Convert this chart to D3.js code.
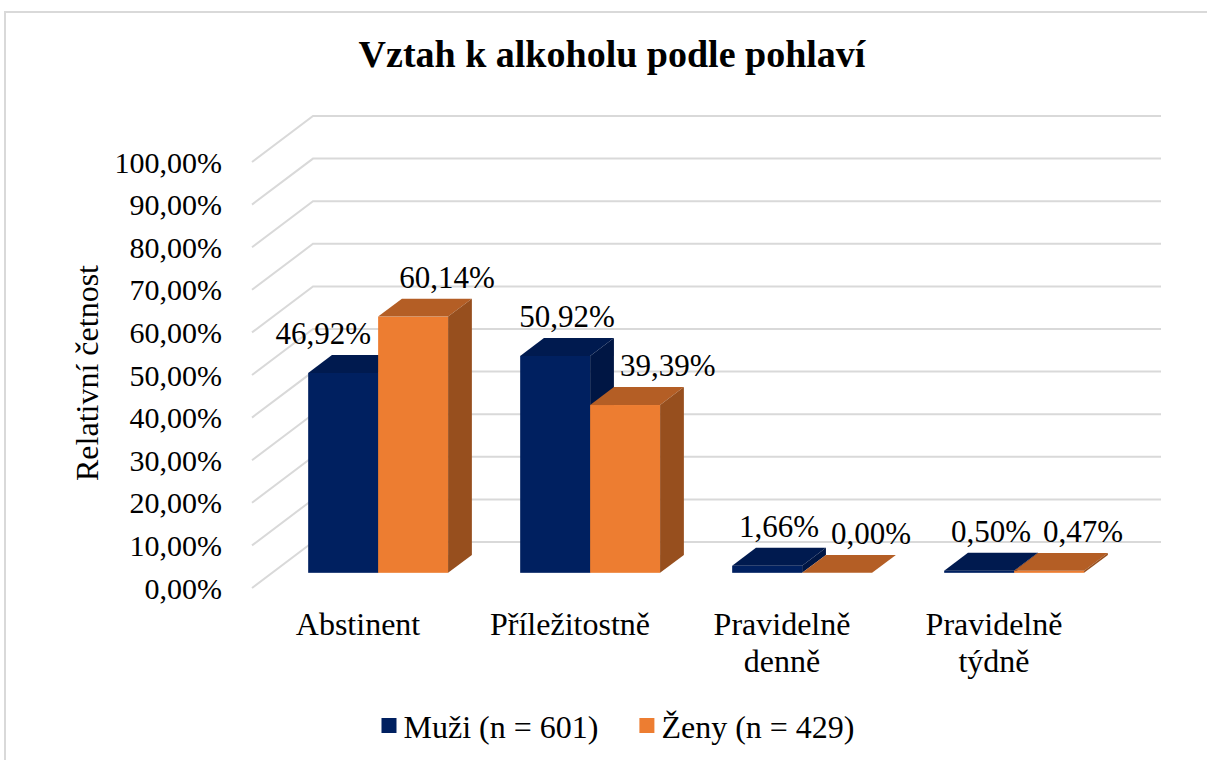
<!DOCTYPE html>
<html>
<head>
<meta charset="utf-8">
<script src="https://cdn.jsdelivr.net/npm/d3@7"></script>
<style>
  body { margin: 0; background: #fff; }
  svg text { font-family: "Times New Roman", "Liberation Serif", serif; fill: #000; }
</style>
</head>
<body>
<div id="chart"></div>
<script>
// data
const categories = ["Abstinent", "Příležitostně", "Pravidelně denně", "Pravidelně týdně"];
const seriesNames = ["Muži (n = 601)", "Ženy (n = 429)"];
const muzi = [46.92, 50.92, 1.66, 0.50];
const zeny = [60.14, 39.39, 0.00, 0.47];
const yTicks = [0, 10, 20, 30, 40, 50, 60, 70, 80, 90, 100];

const title = "Vztah k alkoholu podle pohlaví";
const yTitle = "Relativní četnost";

// colours: front, top, side
const palette = [
    {front: "#002060", top: "#001a4f", side: "#001644"},
    {front: "#ed7d31", top: "#b45e25", side: "#974f1e"}
];

const W = 1207, H = 760;
const fmt = v => v.toFixed(2).replace(".", ",") + "%";

// 3d geometry (oblique projection)
const depthX = 61, depthY = 46;      // full depth of the floor
const f1 = 0.33, f2 = 0.72;          // bar depth range

const x = d3.scaleBand()
    .domain(categories)
    .range([252, 1100]);

const y = d3.scaleLinear()
    .domain([0, 100])
    .range([588, 162]);

const svg = d3.select("#chart").append("svg")
    .attr("width", W)
    .attr("height", H);

// chart border
svg.append("rect")
    .attr("x", 5).attr("y", 12)
    .attr("width", W + 20).attr("height", H + 20)
    .attr("fill", "#fff")
    .attr("stroke", "#d9d9d9")
    .attr("stroke-width", 2);

// title
svg.append("text")
    .attr("x", 612).attr("y", 67)
    .attr("text-anchor", "middle")
    .style("font-size", "38px")
    .style("font-weight", "bold")
    .text(title);

// gridlines: side wall diagonal + back wall
const grid = svg.append("g")
    .attr("stroke", "#d9d9d9")
    .attr("stroke-width", 2)
    .attr("fill", "none");

yTicks.forEach(t => {
    const yf = y(t), yb = y(t) - depthY;
    grid.append("polyline")
        .attr("points", [[x.range()[0], yf], [x.range()[0] + depthX, yb], [x.range()[1] + depthX, yb]].join(" "));
});

// y tick labels
svg.append("g").selectAll("text")
    .data(yTicks)
    .join("text")
    .attr("x", 222)
    .attr("y", d => y(d))
    .attr("dy", "0.35em")
    .attr("text-anchor", "end")
    .style("font-size", "30px")
    .text(d => fmt(d));

// y axis title
svg.append("text")
    .attr("transform", "translate(87,373) rotate(-90)")
    .attr("text-anchor", "middle")
    .attr("dy", "0.35em")
    .style("font-size", "32px")
    .text(yTitle);

// bars
const barW = x.bandwidth() * 0.33;
const groupOff = (x.bandwidth() - 2 * barW) / 2;
const ddx = depthX * (f2 - f1), ddy = depthY * (f2 - f1);

const bars = [];
categories.forEach((c, i) => {
    [muzi[i], zeny[i]].forEach((v, s) => {
        const L = x(c) + groupOff + s * barW + depthX * f1;
        const B = y(0) - depthY * f1;
        const T = y(v) - depthY * f1;
        bars.push({cat: i, s, v, L, B, T});
    });
});

const gBars = svg.append("g");
bars.forEach(b => {
    const col = palette[b.s];
    const g = gBars.append("g");
    g.append("rect")
        .attr("x", b.L).attr("y", b.T)
        .attr("width", barW).attr("height", b.B - b.T)
        .attr("fill", col.front);
    g.append("polygon")
        .attr("points", [[b.L, b.T], [b.L + barW, b.T], [b.L + barW + ddx, b.T - ddy], [b.L + ddx, b.T - ddy]].join(" "))
        .attr("fill", col.top);
    g.append("polygon")
        .attr("points", [[b.L + barW, b.T], [b.L + barW + ddx, b.T - ddy], [b.L + barW + ddx, b.B - ddy], [b.L + barW, b.B]].join(" "))
        .attr("fill", col.side);
});

// data labels
const gLab = svg.append("g");
bars.forEach(b => {
    const cx = b.L + barW / 2 + (b.s === 0 ? 12 : 34);
    const base = b.T - ddy - 11;
    const t = gLab.append("text")
        .attr("x", cx).attr("y", base)
        .attr("text-anchor", "middle")
        .style("font-size", "31px")
        .text(fmt(b.v));
    const w = t.node().getComputedTextLength();
    // keep labels clear of a taller neighbour bar
    if (b.s === 0) {
        const nb = bars.find(o => o.cat === b.cat && o.s === 1);
        if (nb.T - ddy < base && cx + w / 2 > nb.L - 6) {
            t.attr("x", nb.L - 7 - w / 2);
        }
    } else {
        const nb = bars.find(o => o.cat === b.cat && o.s === 0);
        const edge = nb.L + barW + ddx;
        if (nb.T - ddy < base && cx - w / 2 < edge + 5) {
            t.attr("x", edge + 6 + w / 2);
        }
    }
});

// category labels (wrap on space)
const gCat = svg.append("g");
categories.forEach(c => {
    const t = gCat.append("text")
        .attr("x", x(c) + x.bandwidth() / 2)
        .attr("y", 635)
        .attr("text-anchor", "middle")
        .style("font-size", "32px");
    c.split(" ").forEach((w, k) => {
        t.append("tspan")
            .attr("x", x(c) + x.bandwidth() / 2)
            .attr("dy", k === 0 ? 0 : 37)
            .text(w);
    });
});

// legend
const leg = svg.append("g");
let lx = 0;
seriesNames.forEach((n, i) => {
    const item = leg.append("g").attr("transform", `translate(${lx},0)`);
    item.append("rect")
        .attr("x", 0).attr("y", -20)
        .attr("width", 15).attr("height", 15)
        .attr("fill", palette[i].front);
    const t = item.append("text")
        .attr("x", 22).attr("y", 0)
        .style("font-size", "32px")
        .text(n);
    lx += 22 + t.node().getComputedTextLength() + 41;
});
const legW = lx - 41;
leg.attr("transform", `translate(${618 - legW / 2},738)`);
</script>
</body>
</html>
